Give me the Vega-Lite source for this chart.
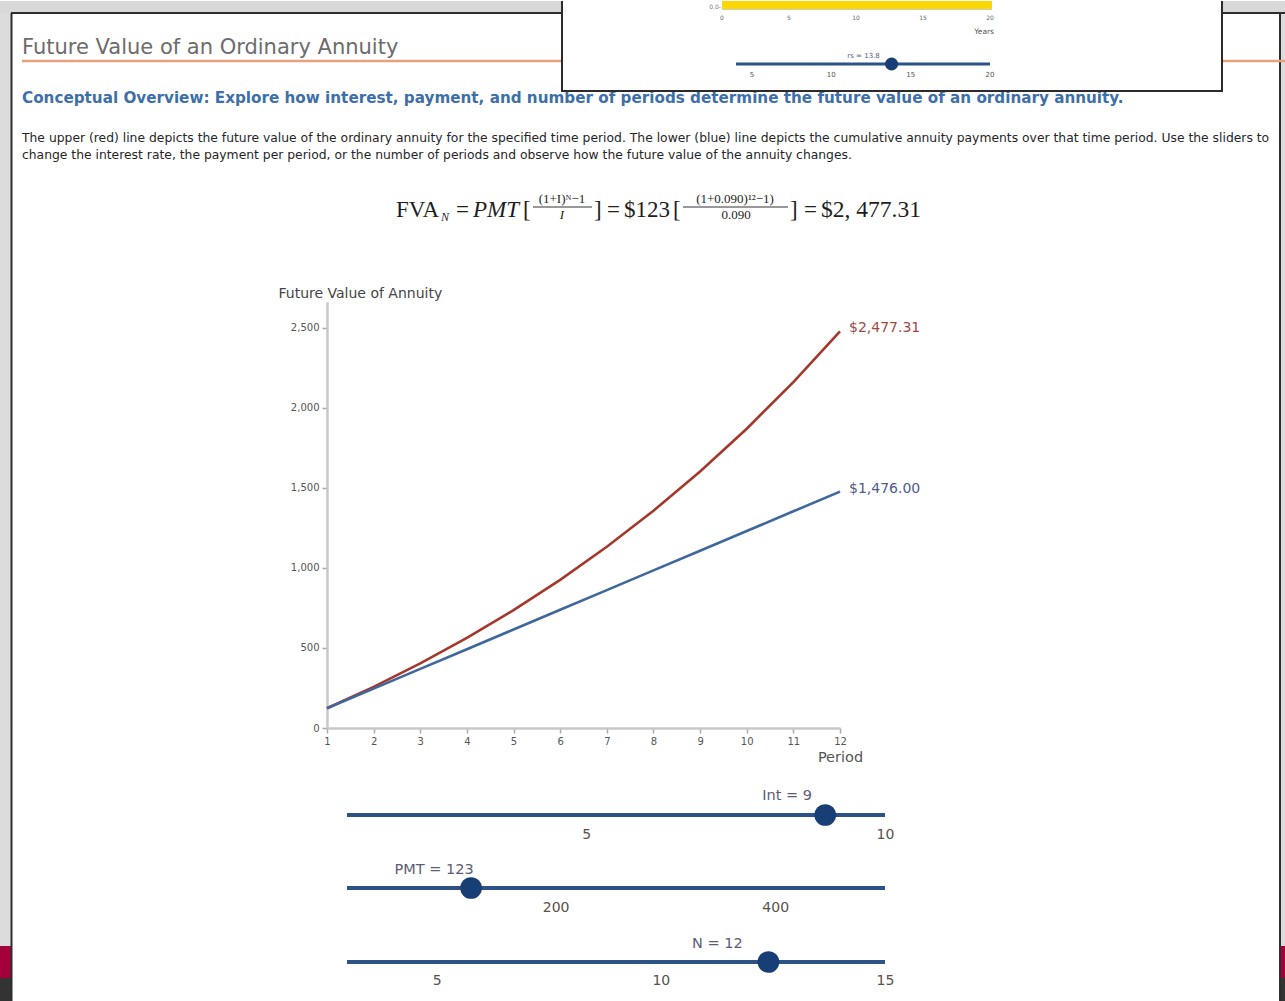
{
  "$schema": "https://vega.github.io/schema/vega-lite/v6.json",
  "padding": 0,
  "background": "#ffffff",
  "config": {"view": {"stroke": null}, "font": "DejaVu Sans"},
  "datasets": {
    "fv": [
      {"period": 1, "series": "Future value", "value": 123.00},
      {"period": 2, "series": "Future value", "value": 257.07},
      {"period": 3, "series": "Future value", "value": 403.21},
      {"period": 4, "series": "Future value", "value": 562.49},
      {"period": 5, "series": "Future value", "value": 736.12},
      {"period": 6, "series": "Future value", "value": 925.37},
      {"period": 7, "series": "Future value", "value": 1131.65},
      {"period": 8, "series": "Future value", "value": 1356.50},
      {"period": 9, "series": "Future value", "value": 1601.59},
      {"period": 10, "series": "Future value", "value": 1868.73},
      {"period": 11, "series": "Future value", "value": 2159.92},
      {"period": 12, "series": "Future value", "value": 2477.31},
      {"period": 1, "series": "Payments", "value": 123},
      {"period": 2, "series": "Payments", "value": 246},
      {"period": 3, "series": "Payments", "value": 369},
      {"period": 4, "series": "Payments", "value": 492},
      {"period": 5, "series": "Payments", "value": 615},
      {"period": 6, "series": "Payments", "value": 738},
      {"period": 7, "series": "Payments", "value": 861},
      {"period": 8, "series": "Payments", "value": 984},
      {"period": 9, "series": "Payments", "value": 1107},
      {"period": 10, "series": "Payments", "value": 1230},
      {"period": 11, "series": "Payments", "value": 1353},
      {"period": 12, "series": "Payments", "value": 1476}
    ],
    "sliders": [
      {"name": "Int", "min": 1, "max": 10, "value": 9, "label": "Int = 9"},
      {"name": "PMT", "min": 10, "max": 500, "value": 123, "label": "PMT = 123"},
      {"name": "N", "min": 3, "max": 15, "value": 12.4, "label": "N = 12"}
    ],
    "popupTicks": [{"yr": 0}, {"yr": 5}, {"yr": 10}, {"yr": 15}, {"yr": 20}],
    "popupSlider": [{"lo": 4, "hi": 20, "rs": 13.8, "label": "rs = 13.8"}],
    "popupSliderTicks": [{"t": 5}, {"t": 10}, {"t": 15}, {"t": 20}]
  },
  "spacing": 0,
  "bounds": "flush",
  "vconcat": [
    {
      "width": 1285, "height": 301,
      "data": {"values": [{}]},
      "resolve": {"scale": {"x": "independent"}},
      "layer": [
        {"mark": {"type": "rect", "color": "#d8d8d8"},
         "encoding": {"x": {"datum": 0, "type": "quantitative", "scale": {"domain": [0, 1285], "nice": false, "zero": false}, "axis": null}, "x2": {"datum": 1285},
                      "y": {"datum": 0, "type": "quantitative", "scale": {"domain": [0, 301], "nice": false, "zero": false, "reverse": true}, "axis": null}, "y2": {"datum": 12}}},
        {"mark": {"type": "rect", "color": "#dcdcdc"},
         "encoding": {"x": {"datum": 0, "type": "quantitative", "scale": {"domain": [0, 1285], "nice": false, "zero": false}, "axis": null}, "x2": {"datum": 11},
                      "y": {"datum": 12, "type": "quantitative", "scale": {"domain": [0, 301], "nice": false, "zero": false, "reverse": true}, "axis": null}, "y2": {"datum": 301}}},
        {"mark": {"type": "rect", "color": "#dcdcdc"},
         "encoding": {"x": {"datum": 1281, "type": "quantitative", "scale": {"domain": [0, 1285], "nice": false, "zero": false}, "axis": null}, "x2": {"datum": 1285},
                      "y": {"datum": 12, "type": "quantitative", "scale": {"domain": [0, 301], "nice": false, "zero": false, "reverse": true}, "axis": null}, "y2": {"datum": 301}}},
        {"mark": {"type": "rule", "color": "#2e2e2e", "strokeWidth": 2},
         "encoding": {"x": {"datum": 11, "type": "quantitative", "scale": {"domain": [0, 1285], "nice": false, "zero": false}, "axis": null}, "x2": {"datum": 1285},
                      "y": {"datum": 12, "type": "quantitative", "scale": {"domain": [0, 301], "nice": false, "zero": false, "reverse": true}, "axis": null}}},
        {"mark": {"type": "rule", "color": "#2e2e2e", "strokeWidth": 2},
         "encoding": {"x": {"datum": 11.5, "type": "quantitative", "scale": {"domain": [0, 1285], "nice": false, "zero": false}, "axis": null},
                      "y": {"datum": 12, "type": "quantitative", "scale": {"domain": [0, 301], "nice": false, "zero": false, "reverse": true}, "axis": null}, "y2": {"datum": 301}}},
        {"mark": {"type": "rule", "color": "#2e2e2e", "strokeWidth": 2},
         "encoding": {"x": {"datum": 1280, "type": "quantitative", "scale": {"domain": [0, 1285], "nice": false, "zero": false}, "axis": null},
                      "y": {"datum": 12, "type": "quantitative", "scale": {"domain": [0, 301], "nice": false, "zero": false, "reverse": true}, "axis": null}, "y2": {"datum": 301}}},
        {"mark": {"type": "text", "text": "Future Value of an Ordinary Annuity", "align": "left", "baseline": "alphabetic", "fontSize": 21, "color": "#6c6c6c"},
         "encoding": {"x": {"datum": 22, "type": "quantitative", "scale": {"domain": [0, 1285], "nice": false, "zero": false}, "axis": null},
                      "y": {"datum": 53, "type": "quantitative", "scale": {"domain": [0, 301], "nice": false, "zero": false, "reverse": true}, "axis": null}}},
        {"mark": {"type": "rule", "color": "#e9a07c", "strokeWidth": 2.5},
         "encoding": {"x": {"datum": 22, "type": "quantitative", "scale": {"domain": [0, 1285], "nice": false, "zero": false}, "axis": null}, "x2": {"datum": 1285},
                      "y": {"datum": 60, "type": "quantitative", "scale": {"domain": [0, 301], "nice": false, "zero": false, "reverse": true}, "axis": null}}},
        {"mark": {"type": "text", "text": "Conceptual Overview: Explore how interest, payment, and number of periods determine the future value of an ordinary annuity.", "align": "left", "baseline": "alphabetic", "fontSize": 15.2, "fontWeight": "bold", "color": "#3d6fa9"},
         "encoding": {"x": {"datum": 22, "type": "quantitative", "scale": {"domain": [0, 1285], "nice": false, "zero": false}, "axis": null},
                      "y": {"datum": 102, "type": "quantitative", "scale": {"domain": [0, 301], "nice": false, "zero": false, "reverse": true}, "axis": null}}},
        {"mark": {"type": "text", "text": "The upper (red) line depicts the future value of the ordinary annuity for the specified time period. The lower (blue) line depicts the cumulative annuity payments over that time period. Use the sliders to\nchange the interest rate, the payment per period, or the number of periods and observe how the future value of the annuity changes.", "lineBreak": "\n", "lineHeight": 17, "align": "left", "baseline": "alphabetic", "fontSize": 12.35, "color": "#262626"},
         "encoding": {"x": {"datum": 22, "type": "quantitative", "scale": {"domain": [0, 1285], "nice": false, "zero": false}, "axis": null},
                      "y": {"datum": 141, "type": "quantitative", "scale": {"domain": [0, 301], "nice": false, "zero": false, "reverse": true}, "axis": null}}},
        {"mark": {"type": "text", "text": "FVA", "align": "left", "baseline": "alphabetic", "fontSize": 23, "font": "Liberation Serif", "color": "#1e1e1e"},
         "encoding": {"x": {"datum": 396, "type": "quantitative", "scale": {"domain": [0, 1285], "nice": false, "zero": false}, "axis": null},
                      "y": {"datum": 216, "type": "quantitative", "scale": {"domain": [0, 301], "nice": false, "zero": false, "reverse": true}, "axis": null}}},
        {"mark": {"type": "text", "text": "N", "align": "left", "baseline": "alphabetic", "fontSize": 12, "fontStyle": "italic", "font": "Liberation Serif", "color": "#1e1e1e"},
         "encoding": {"x": {"datum": 441, "type": "quantitative", "scale": {"domain": [0, 1285], "nice": false, "zero": false}, "axis": null},
                      "y": {"datum": 220, "type": "quantitative", "scale": {"domain": [0, 301], "nice": false, "zero": false, "reverse": true}, "axis": null}}},
        {"mark": {"type": "text", "text": "=", "align": "left", "baseline": "alphabetic", "fontSize": 23, "font": "Liberation Serif", "color": "#1e1e1e"},
         "encoding": {"x": {"datum": 456, "type": "quantitative", "scale": {"domain": [0, 1285], "nice": false, "zero": false}, "axis": null},
                      "y": {"datum": 216, "type": "quantitative", "scale": {"domain": [0, 301], "nice": false, "zero": false, "reverse": true}, "axis": null}}},
        {"mark": {"type": "text", "text": "PMT", "align": "left", "baseline": "alphabetic", "fontSize": 23, "fontStyle": "italic", "font": "Liberation Serif", "color": "#1e1e1e"},
         "encoding": {"x": {"datum": 473, "type": "quantitative", "scale": {"domain": [0, 1285], "nice": false, "zero": false}, "axis": null},
                      "y": {"datum": 216, "type": "quantitative", "scale": {"domain": [0, 301], "nice": false, "zero": false, "reverse": true}, "axis": null}}},
        {"mark": {"type": "text", "text": "[", "align": "left", "baseline": "alphabetic", "fontSize": 23, "font": "Liberation Serif", "color": "#1e1e1e"},
         "encoding": {"x": {"datum": 523, "type": "quantitative", "scale": {"domain": [0, 1285], "nice": false, "zero": false}, "axis": null},
                      "y": {"datum": 216, "type": "quantitative", "scale": {"domain": [0, 301], "nice": false, "zero": false, "reverse": true}, "axis": null}}},
        {"mark": {"type": "text", "text": "(1+I)ᴺ−1", "align": "center", "baseline": "alphabetic", "fontSize": 13, "font": "Liberation Serif", "color": "#1e1e1e"},
         "encoding": {"x": {"datum": 562, "type": "quantitative", "scale": {"domain": [0, 1285], "nice": false, "zero": false}, "axis": null},
                      "y": {"datum": 202, "type": "quantitative", "scale": {"domain": [0, 301], "nice": false, "zero": false, "reverse": true}, "axis": null}}},
        {"mark": {"type": "rule", "color": "#333333", "strokeWidth": 1},
         "encoding": {"x": {"datum": 533, "type": "quantitative", "scale": {"domain": [0, 1285], "nice": false, "zero": false}, "axis": null}, "x2": {"datum": 592},
                      "y": {"datum": 206, "type": "quantitative", "scale": {"domain": [0, 301], "nice": false, "zero": false, "reverse": true}, "axis": null}}},
        {"mark": {"type": "text", "text": "I", "align": "center", "baseline": "alphabetic", "fontSize": 13, "fontStyle": "italic", "font": "Liberation Serif", "color": "#1e1e1e"},
         "encoding": {"x": {"datum": 562, "type": "quantitative", "scale": {"domain": [0, 1285], "nice": false, "zero": false}, "axis": null},
                      "y": {"datum": 218, "type": "quantitative", "scale": {"domain": [0, 301], "nice": false, "zero": false, "reverse": true}, "axis": null}}},
        {"mark": {"type": "text", "text": "]", "align": "left", "baseline": "alphabetic", "fontSize": 23, "font": "Liberation Serif", "color": "#1e1e1e"},
         "encoding": {"x": {"datum": 594, "type": "quantitative", "scale": {"domain": [0, 1285], "nice": false, "zero": false}, "axis": null},
                      "y": {"datum": 216, "type": "quantitative", "scale": {"domain": [0, 301], "nice": false, "zero": false, "reverse": true}, "axis": null}}},
        {"mark": {"type": "text", "text": "=", "align": "left", "baseline": "alphabetic", "fontSize": 23, "font": "Liberation Serif", "color": "#1e1e1e"},
         "encoding": {"x": {"datum": 607, "type": "quantitative", "scale": {"domain": [0, 1285], "nice": false, "zero": false}, "axis": null},
                      "y": {"datum": 216, "type": "quantitative", "scale": {"domain": [0, 301], "nice": false, "zero": false, "reverse": true}, "axis": null}}},
        {"mark": {"type": "text", "text": "$123", "align": "left", "baseline": "alphabetic", "fontSize": 23, "font": "Liberation Serif", "color": "#1e1e1e"},
         "encoding": {"x": {"datum": 624, "type": "quantitative", "scale": {"domain": [0, 1285], "nice": false, "zero": false}, "axis": null},
                      "y": {"datum": 216, "type": "quantitative", "scale": {"domain": [0, 301], "nice": false, "zero": false, "reverse": true}, "axis": null}}},
        {"mark": {"type": "text", "text": "[", "align": "left", "baseline": "alphabetic", "fontSize": 23, "font": "Liberation Serif", "color": "#1e1e1e"},
         "encoding": {"x": {"datum": 673, "type": "quantitative", "scale": {"domain": [0, 1285], "nice": false, "zero": false}, "axis": null},
                      "y": {"datum": 216, "type": "quantitative", "scale": {"domain": [0, 301], "nice": false, "zero": false, "reverse": true}, "axis": null}}},
        {"mark": {"type": "text", "text": "(1+0.090)¹²−1)", "align": "center", "baseline": "alphabetic", "fontSize": 13, "font": "Liberation Serif", "color": "#1e1e1e"},
         "encoding": {"x": {"datum": 735, "type": "quantitative", "scale": {"domain": [0, 1285], "nice": false, "zero": false}, "axis": null},
                      "y": {"datum": 202, "type": "quantitative", "scale": {"domain": [0, 301], "nice": false, "zero": false, "reverse": true}, "axis": null}}},
        {"mark": {"type": "rule", "color": "#333333", "strokeWidth": 1},
         "encoding": {"x": {"datum": 683, "type": "quantitative", "scale": {"domain": [0, 1285], "nice": false, "zero": false}, "axis": null}, "x2": {"datum": 788},
                      "y": {"datum": 206, "type": "quantitative", "scale": {"domain": [0, 301], "nice": false, "zero": false, "reverse": true}, "axis": null}}},
        {"mark": {"type": "text", "text": "0.090", "align": "center", "baseline": "alphabetic", "fontSize": 13, "font": "Liberation Serif", "color": "#1e1e1e"},
         "encoding": {"x": {"datum": 736, "type": "quantitative", "scale": {"domain": [0, 1285], "nice": false, "zero": false}, "axis": null},
                      "y": {"datum": 218, "type": "quantitative", "scale": {"domain": [0, 301], "nice": false, "zero": false, "reverse": true}, "axis": null}}},
        {"mark": {"type": "text", "text": "]", "align": "left", "baseline": "alphabetic", "fontSize": 23, "font": "Liberation Serif", "color": "#1e1e1e"},
         "encoding": {"x": {"datum": 790, "type": "quantitative", "scale": {"domain": [0, 1285], "nice": false, "zero": false}, "axis": null},
                      "y": {"datum": 216, "type": "quantitative", "scale": {"domain": [0, 301], "nice": false, "zero": false, "reverse": true}, "axis": null}}},
        {"mark": {"type": "text", "text": "=", "align": "left", "baseline": "alphabetic", "fontSize": 23, "font": "Liberation Serif", "color": "#1e1e1e"},
         "encoding": {"x": {"datum": 804, "type": "quantitative", "scale": {"domain": [0, 1285], "nice": false, "zero": false}, "axis": null},
                      "y": {"datum": 216, "type": "quantitative", "scale": {"domain": [0, 301], "nice": false, "zero": false, "reverse": true}, "axis": null}}},
        {"mark": {"type": "text", "text": "$2, 477.31", "align": "left", "baseline": "alphabetic", "fontSize": 23.5, "font": "Liberation Serif", "color": "#1e1e1e"},
         "encoding": {"x": {"datum": 821, "type": "quantitative", "scale": {"domain": [0, 1285], "nice": false, "zero": false}, "axis": null},
                      "y": {"datum": 216, "type": "quantitative", "scale": {"domain": [0, 301], "nice": false, "zero": false, "reverse": true}, "axis": null}}},
        {"mark": {"type": "rect", "color": "#ffffff"},
         "encoding": {"x": {"datum": 562, "type": "quantitative", "scale": {"domain": [0, 1285], "nice": false, "zero": false}, "axis": null}, "x2": {"datum": 1222},
                      "y": {"datum": 0, "type": "quantitative", "scale": {"domain": [0, 301], "nice": false, "zero": false, "reverse": true}, "axis": null}, "y2": {"datum": 90}}},
        {"mark": {"type": "rule", "color": "#2b2b2b", "strokeWidth": 2},
         "encoding": {"x": {"datum": 562, "type": "quantitative", "scale": {"domain": [0, 1285], "nice": false, "zero": false}, "axis": null},
                      "y": {"datum": 0, "type": "quantitative", "scale": {"domain": [0, 301], "nice": false, "zero": false, "reverse": true}, "axis": null}, "y2": {"datum": 90}}},
        {"mark": {"type": "rule", "color": "#2b2b2b", "strokeWidth": 2},
         "encoding": {"x": {"datum": 1222, "type": "quantitative", "scale": {"domain": [0, 1285], "nice": false, "zero": false}, "axis": null},
                      "y": {"datum": 0, "type": "quantitative", "scale": {"domain": [0, 301], "nice": false, "zero": false, "reverse": true}, "axis": null}, "y2": {"datum": 90}}},
        {"mark": {"type": "rule", "color": "#2b2b2b", "strokeWidth": 2},
         "encoding": {"x": {"datum": 561, "type": "quantitative", "scale": {"domain": [0, 1285], "nice": false, "zero": false}, "axis": null}, "x2": {"datum": 1223},
                      "y": {"datum": 90, "type": "quantitative", "scale": {"domain": [0, 301], "nice": false, "zero": false, "reverse": true}, "axis": null}}},
        {"mark": {"type": "rect", "color": "#fdd700"},
         "encoding": {"x": {"datum": 722, "type": "quantitative", "scale": {"domain": [0, 1285], "nice": false, "zero": false}, "axis": null}, "x2": {"datum": 992},
                      "y": {"datum": 0, "type": "quantitative", "scale": {"domain": [0, 301], "nice": false, "zero": false, "reverse": true}, "axis": null}, "y2": {"datum": 8}}},
        {"mark": {"type": "rule", "color": "#cccccc", "strokeWidth": 1},
         "encoding": {"x": {"datum": 722, "type": "quantitative", "scale": {"domain": [0, 1285], "nice": false, "zero": false}, "axis": null}, "x2": {"datum": 992},
                      "y": {"datum": 8.5, "type": "quantitative", "scale": {"domain": [0, 301], "nice": false, "zero": false, "reverse": true}, "axis": null}}},
        {"mark": {"type": "text", "text": "0.0-", "align": "right", "baseline": "middle", "fontSize": 6, "color": "#777777"},
         "encoding": {"x": {"datum": 721, "type": "quantitative", "scale": {"domain": [0, 1285], "nice": false, "zero": false}, "axis": null},
                      "y": {"datum": 6, "type": "quantitative", "scale": {"domain": [0, 301], "nice": false, "zero": false, "reverse": true}, "axis": null}}},
        {"data": {"name": "popupTicks"},
         "mark": {"type": "text", "baseline": "middle", "fontSize": 6, "color": "#666666"},
         "encoding": {"x": {"field": "yr", "type": "quantitative", "scale": {"domain": [0, 20], "range": [722, 990], "nice": false, "zero": false}, "axis": null},
                      "y": {"datum": 17, "type": "quantitative", "scale": {"domain": [0, 301], "nice": false, "zero": false, "reverse": true}, "axis": null},
                      "text": {"field": "yr", "type": "quantitative"}}},
        {"mark": {"type": "text", "text": "Years", "align": "right", "baseline": "middle", "fontSize": 7.5, "color": "#555555"},
         "encoding": {"x": {"datum": 994, "type": "quantitative", "scale": {"domain": [0, 1285], "nice": false, "zero": false}, "axis": null},
                      "y": {"datum": 31, "type": "quantitative", "scale": {"domain": [0, 301], "nice": false, "zero": false, "reverse": true}, "axis": null}}},
        {"data": {"name": "popupSlider"},
         "mark": {"type": "rule", "color": "#2c5287", "strokeWidth": 3},
         "encoding": {"x": {"field": "lo", "type": "quantitative", "scale": {"domain": [4, 20], "range": [736, 990], "nice": false, "zero": false}, "axis": null}, "x2": {"field": "hi"},
                      "y": {"datum": 63, "type": "quantitative", "scale": {"domain": [0, 301], "nice": false, "zero": false, "reverse": true}, "axis": null}}},
        {"data": {"name": "popupSlider"},
         "mark": {"type": "circle", "color": "#173e75", "size": 170, "opacity": 1},
         "encoding": {"x": {"field": "rs", "type": "quantitative", "scale": {"domain": [4, 20], "range": [736, 990], "nice": false, "zero": false}, "axis": null},
                      "y": {"datum": 63, "type": "quantitative", "scale": {"domain": [0, 301], "nice": false, "zero": false, "reverse": true}, "axis": null}}},
        {"data": {"name": "popupSlider"},
         "mark": {"type": "text", "baseline": "middle", "fontSize": 7, "color": "#5c5c78", "dx": -28},
         "encoding": {"x": {"field": "rs", "type": "quantitative", "scale": {"domain": [4, 20], "range": [736, 990], "nice": false, "zero": false}, "axis": null},
                      "y": {"datum": 55, "type": "quantitative", "scale": {"domain": [0, 301], "nice": false, "zero": false, "reverse": true}, "axis": null},
                      "text": {"field": "label"}}},
        {"data": {"name": "popupSliderTicks"},
         "mark": {"type": "text", "baseline": "middle", "fontSize": 7, "color": "#5a5147"},
         "encoding": {"x": {"field": "t", "type": "quantitative", "scale": {"domain": [4, 20], "range": [736, 990], "nice": false, "zero": false}, "axis": null},
                      "y": {"datum": 74, "type": "quantitative", "scale": {"domain": [0, 301], "nice": false, "zero": false, "reverse": true}, "axis": null},
                      "text": {"field": "t", "type": "quantitative"}}}
      ]
    },
    {
      "width": 1285, "height": 426,
      "data": {"name": "fv"},
      "resolve": {"scale": {"x": "independent"}},
      "layer": [
        {"data": {"values": [{}]}, "mark": {"type": "rect", "color": "#dcdcdc"},
         "encoding": {"x": {"datum": 0, "type": "quantitative", "scale": {"domain": [0, 1285], "nice": false, "zero": false}, "axis": null}, "x2": {"datum": 11}}},
        {"data": {"values": [{}]}, "mark": {"type": "rect", "color": "#dcdcdc"},
         "encoding": {"x": {"datum": 1281, "type": "quantitative", "scale": {"domain": [0, 1285], "nice": false, "zero": false}, "axis": null}, "x2": {"datum": 1285}}},
        {"data": {"values": [{}]}, "mark": {"type": "rule", "color": "#2e2e2e", "strokeWidth": 2},
         "encoding": {"x": {"datum": 11.5, "type": "quantitative", "scale": {"domain": [0, 1285], "nice": false, "zero": false}, "axis": null}}},
        {"data": {"values": [{}]}, "mark": {"type": "rule", "color": "#2e2e2e", "strokeWidth": 2},
         "encoding": {"x": {"datum": 1280, "type": "quantitative", "scale": {"domain": [0, 1285], "nice": false, "zero": false}, "axis": null}}},
        {"mark": {"type": "line", "strokeWidth": 2.6},
         "encoding": {
           "x": {"field": "period", "type": "quantitative",
                 "scale": {"domain": [1, 12], "range": [327, 840], "nice": false, "zero": false},
                 "axis": {"values": [1, 2, 3, 4, 5, 6, 7, 8, 9, 10, 11, 12], "format": "d", "grid": false, "labelFlush": false, "labelOverlap": false,
                          "labelFontSize": 10, "labelColor": "#555555", "labelPadding": 3,
                          "tickColor": "#aaaaaa", "tickSize": 5, "tickWidth": 1.5,
                          "domainColor": "#c8c8c8", "domainWidth": 2.5,
                          "title": "Period", "titleX": 840, "titleY": 29, "titleAlign": "center", "titleBaseline": "middle",
                          "titleFontSize": 14.5, "titleFontWeight": "normal", "titleColor": "#555555"}},
           "y": {"field": "value", "type": "quantitative",
                 "scale": {"domain": [0, 2660], "nice": false, "zero": false},
                 "axis": {"values": [0, 500, 1000, 1500, 2000, 2500], "format": ",.0f", "grid": false, "labelFlush": false, "offset": -327,
                          "labelFontSize": 10, "labelColor": "#555555", "labelPadding": 3,
                          "tickColor": "#aaaaaa", "tickSize": 5, "tickWidth": 1.5,
                          "domainColor": "#c8c8c8", "domainWidth": 2.5,
                          "title": "Future Value of Annuity", "titleAngle": 0, "titleAlign": "left", "titleBaseline": "middle",
                          "titleX": -49, "titleY": -9, "titleFontSize": 14, "titleFontWeight": "normal", "titleColor": "#444444"}},
           "color": {"field": "series", "type": "nominal",
                     "scale": {"domain": ["Future value", "Payments"], "range": ["#a5382c", "#3f679d"]}, "legend": null}}},
        {"transform": [{"filter": "datum.period == 12"}],
         "mark": {"type": "text", "align": "left", "baseline": "middle", "dx": 9, "dy": -3, "fontSize": 14},
         "encoding": {
           "x": {"field": "period", "type": "quantitative", "scale": {"domain": [1, 12], "range": [327, 840], "nice": false, "zero": false}, "axis": null},
           "y": {"field": "value", "type": "quantitative"},
           "text": {"field": "value", "type": "quantitative", "format": "$,.2f"},
           "color": {"condition": {"test": "datum.series === 'Future value'", "value": "#9d4a46"}, "value": "#4e5c8c"}}}
      ]
    },
    {
      "width": 1285, "height": 87,
      "data": {"name": "sliders"},
      "transform": [{"filter": "datum.name === 'Int'"}],
      "resolve": {"scale": {"x": "independent"}},
      "layer": [
        {"data": {"values": [{}]}, "mark": {"type": "rect", "color": "#dcdcdc"},
         "encoding": {"x": {"datum": 0, "type": "quantitative", "scale": {"domain": [0, 1285], "nice": false, "zero": false}, "axis": null}, "x2": {"datum": 11}}},
        {"data": {"values": [{}]}, "mark": {"type": "rect", "color": "#dcdcdc"},
         "encoding": {"x": {"datum": 1281, "type": "quantitative", "scale": {"domain": [0, 1285], "nice": false, "zero": false}, "axis": null}, "x2": {"datum": 1285}}},
        {"data": {"values": [{}]}, "mark": {"type": "rule", "color": "#2e2e2e", "strokeWidth": 2},
         "encoding": {"x": {"datum": 11.5, "type": "quantitative", "scale": {"domain": [0, 1285], "nice": false, "zero": false}, "axis": null}}},
        {"data": {"values": [{}]}, "mark": {"type": "rule", "color": "#2e2e2e", "strokeWidth": 2},
         "encoding": {"x": {"datum": 1280, "type": "quantitative", "scale": {"domain": [0, 1285], "nice": false, "zero": false}, "axis": null}}},
        {"mark": {"type": "rule", "strokeWidth": 4, "color": "#2c5287"},
         "encoding": {"x": {"field": "min", "type": "quantitative", "scale": {"domain": [1, 10], "range": [347, 885], "nice": false, "zero": false},
                            "axis": {"values": [5, 10], "format": "d", "title": null, "domain": false, "ticks": false, "tickSize": 0, "grid": false, "labelFlush": false,
                                     "labelPadding": 12, "labelFontSize": 14, "labelColor": "#5a5147"}},
                      "x2": {"field": "max"},
                      "y": {"datum": 0, "type": "quantitative", "scale": {"domain": [0, 87], "nice": false, "zero": false}, "axis": null}}},
        {"mark": {"type": "circle", "size": 470, "opacity": 1, "color": "#173e75"},
         "encoding": {"x": {"field": "value", "type": "quantitative", "scale": {"domain": [1, 10], "range": [347, 885], "nice": false, "zero": false}, "axis": null},
                      "y": {"datum": 0, "type": "quantitative"}}},
        {"mark": {"type": "text", "fontSize": 14.5, "color": "#5c5c78", "dx": -38, "dy": -19, "baseline": "middle"},
         "encoding": {"x": {"field": "value", "type": "quantitative", "scale": {"domain": [1, 10], "range": [347, 885], "nice": false, "zero": false}, "axis": null},
                      "y": {"datum": 0, "type": "quantitative"},
                      "text": {"field": "label"}}}
      ]
    },
    {
      "width": 1285, "height": 73,
      "data": {"name": "sliders"},
      "transform": [{"filter": "datum.name === 'PMT'"}],
      "resolve": {"scale": {"x": "independent"}},
      "layer": [
        {"data": {"values": [{}]}, "mark": {"type": "rect", "color": "#dcdcdc"},
         "encoding": {"x": {"datum": 0, "type": "quantitative", "scale": {"domain": [0, 1285], "nice": false, "zero": false}, "axis": null}, "x2": {"datum": 11}}},
        {"data": {"values": [{}]}, "mark": {"type": "rect", "color": "#dcdcdc"},
         "encoding": {"x": {"datum": 1281, "type": "quantitative", "scale": {"domain": [0, 1285], "nice": false, "zero": false}, "axis": null}, "x2": {"datum": 1285}}},
        {"data": {"values": [{}]}, "mark": {"type": "rule", "color": "#2e2e2e", "strokeWidth": 2},
         "encoding": {"x": {"datum": 11.5, "type": "quantitative", "scale": {"domain": [0, 1285], "nice": false, "zero": false}, "axis": null}}},
        {"data": {"values": [{}]}, "mark": {"type": "rule", "color": "#2e2e2e", "strokeWidth": 2},
         "encoding": {"x": {"datum": 1280, "type": "quantitative", "scale": {"domain": [0, 1285], "nice": false, "zero": false}, "axis": null}}},
        {"mark": {"type": "rule", "strokeWidth": 4, "color": "#2c5287"},
         "encoding": {"x": {"field": "min", "type": "quantitative", "scale": {"domain": [10, 500], "range": [347, 885], "nice": false, "zero": false},
                            "axis": {"values": [200, 400], "format": "d", "title": null, "domain": false, "ticks": false, "tickSize": 0, "grid": false, "labelFlush": false,
                                     "labelPadding": 12, "labelFontSize": 14, "labelColor": "#5a5147"}},
                      "x2": {"field": "max"},
                      "y": {"datum": 0, "type": "quantitative", "scale": {"domain": [0, 73], "nice": false, "zero": false}, "axis": null}}},
        {"mark": {"type": "circle", "size": 470, "opacity": 1, "color": "#173e75"},
         "encoding": {"x": {"field": "value", "type": "quantitative", "scale": {"domain": [10, 500], "range": [347, 885], "nice": false, "zero": false}, "axis": null},
                      "y": {"datum": 0, "type": "quantitative"}}},
        {"mark": {"type": "text", "fontSize": 14.5, "color": "#5c5c78", "dx": -37, "dy": -18, "baseline": "middle"},
         "encoding": {"x": {"field": "value", "type": "quantitative", "scale": {"domain": [10, 500], "range": [347, 885], "nice": false, "zero": false}, "axis": null},
                      "y": {"datum": 0, "type": "quantitative"},
                      "text": {"field": "label"}}}
      ]
    },
    {
      "width": 1285, "height": 74,
      "data": {"name": "sliders"},
      "transform": [{"filter": "datum.name === 'N'"}],
      "resolve": {"scale": {"x": "independent"}},
      "layer": [
        {"data": {"values": [{}]}, "mark": {"type": "rect", "color": "#dcdcdc"},
         "encoding": {"x": {"datum": 0, "type": "quantitative", "scale": {"domain": [0, 1285], "nice": false, "zero": false}, "axis": null}, "x2": {"datum": 11}}},
        {"data": {"values": [{}]}, "mark": {"type": "rect", "color": "#dcdcdc"},
         "encoding": {"x": {"datum": 1281, "type": "quantitative", "scale": {"domain": [0, 1285], "nice": false, "zero": false}, "axis": null}, "x2": {"datum": 1285}}},
        {"data": {"values": [{}]}, "mark": {"type": "rect", "color": "#a3003c"},
         "encoding": {"x": {"datum": 0, "type": "quantitative", "scale": {"domain": [0, 1285], "nice": false, "zero": false}, "axis": null}, "x2": {"datum": 11},
                      "y": {"datum": 0, "type": "quantitative", "scale": {"domain": [0, 74], "nice": false, "zero": false}, "axis": null}, "y2": {"datum": 16}}},
        {"data": {"values": [{}]}, "mark": {"type": "rect", "color": "#a3003c"},
         "encoding": {"x": {"datum": 1281, "type": "quantitative", "scale": {"domain": [0, 1285], "nice": false, "zero": false}, "axis": null}, "x2": {"datum": 1285},
                      "y": {"datum": 0, "type": "quantitative"}, "y2": {"datum": 16}}},
        {"data": {"values": [{}]}, "mark": {"type": "rule", "color": "#2e2e2e", "strokeWidth": 2},
         "encoding": {"x": {"datum": 11.5, "type": "quantitative", "scale": {"domain": [0, 1285], "nice": false, "zero": false}, "axis": null}}},
        {"data": {"values": [{}]}, "mark": {"type": "rule", "color": "#2e2e2e", "strokeWidth": 2},
         "encoding": {"x": {"datum": 1280, "type": "quantitative", "scale": {"domain": [0, 1285], "nice": false, "zero": false}, "axis": null}}},
        {"mark": {"type": "rule", "strokeWidth": 4, "color": "#2c5287"},
         "encoding": {"x": {"field": "min", "type": "quantitative", "scale": {"domain": [3, 15], "range": [347, 885], "nice": false, "zero": false},
                            "axis": {"values": [5, 10, 15], "format": "d", "title": null, "domain": false, "ticks": false, "tickSize": 0, "grid": false, "labelFlush": false,
                                     "labelPadding": 11, "labelFontSize": 14, "labelColor": "#5a5147"}},
                      "x2": {"field": "max"},
                      "y": {"datum": 0, "type": "quantitative"}}},
        {"mark": {"type": "circle", "size": 470, "opacity": 1, "color": "#173e75"},
         "encoding": {"x": {"field": "value", "type": "quantitative", "scale": {"domain": [3, 15], "range": [347, 885], "nice": false, "zero": false}, "axis": null},
                      "y": {"datum": 0, "type": "quantitative"}}},
        {"mark": {"type": "text", "fontSize": 14.5, "color": "#5c5c78", "dx": -51, "dy": -18, "baseline": "middle"},
         "encoding": {"x": {"field": "value", "type": "quantitative", "scale": {"domain": [3, 15], "range": [347, 885], "nice": false, "zero": false}, "axis": null},
                      "y": {"datum": 0, "type": "quantitative"},
                      "text": {"field": "label"}}}
      ]
    },
    {
      "width": 1285, "height": 40,
      "data": {"values": [{}]},
      "resolve": {"scale": {"x": "independent"}},
      "layer": [
        {"mark": {"type": "rect", "color": "#a3003c"},
         "encoding": {"x": {"datum": 0, "type": "quantitative", "scale": {"domain": [0, 1285], "nice": false, "zero": false}, "axis": null}, "x2": {"datum": 11},
                      "y": {"datum": 0, "type": "quantitative", "scale": {"domain": [0, 40], "nice": false, "zero": false, "reverse": true}, "axis": null}, "y2": {"datum": 16}}},
        {"mark": {"type": "rect", "color": "#a3003c"},
         "encoding": {"x": {"datum": 1281, "type": "quantitative", "scale": {"domain": [0, 1285], "nice": false, "zero": false}, "axis": null}, "x2": {"datum": 1285},
                      "y": {"datum": 0, "type": "quantitative"}, "y2": {"datum": 16}}},
        {"mark": {"type": "rect", "color": "#333333"},
         "encoding": {"x": {"datum": 0, "type": "quantitative", "scale": {"domain": [0, 1285], "nice": false, "zero": false}, "axis": null}, "x2": {"datum": 11},
                      "y": {"datum": 16, "type": "quantitative"}, "y2": {"datum": 40}}},
        {"mark": {"type": "rect", "color": "#333333"},
         "encoding": {"x": {"datum": 1281, "type": "quantitative", "scale": {"domain": [0, 1285], "nice": false, "zero": false}, "axis": null}, "x2": {"datum": 1285},
                      "y": {"datum": 16, "type": "quantitative"}, "y2": {"datum": 40}}},
        {"mark": {"type": "rule", "color": "#2e2e2e", "strokeWidth": 2},
         "encoding": {"x": {"datum": 11.5, "type": "quantitative", "scale": {"domain": [0, 1285], "nice": false, "zero": false}, "axis": null}}},
        {"mark": {"type": "rule", "color": "#2e2e2e", "strokeWidth": 2},
         "encoding": {"x": {"datum": 1280, "type": "quantitative", "scale": {"domain": [0, 1285], "nice": false, "zero": false}, "axis": null}}}
      ]
    }
  ]
}
